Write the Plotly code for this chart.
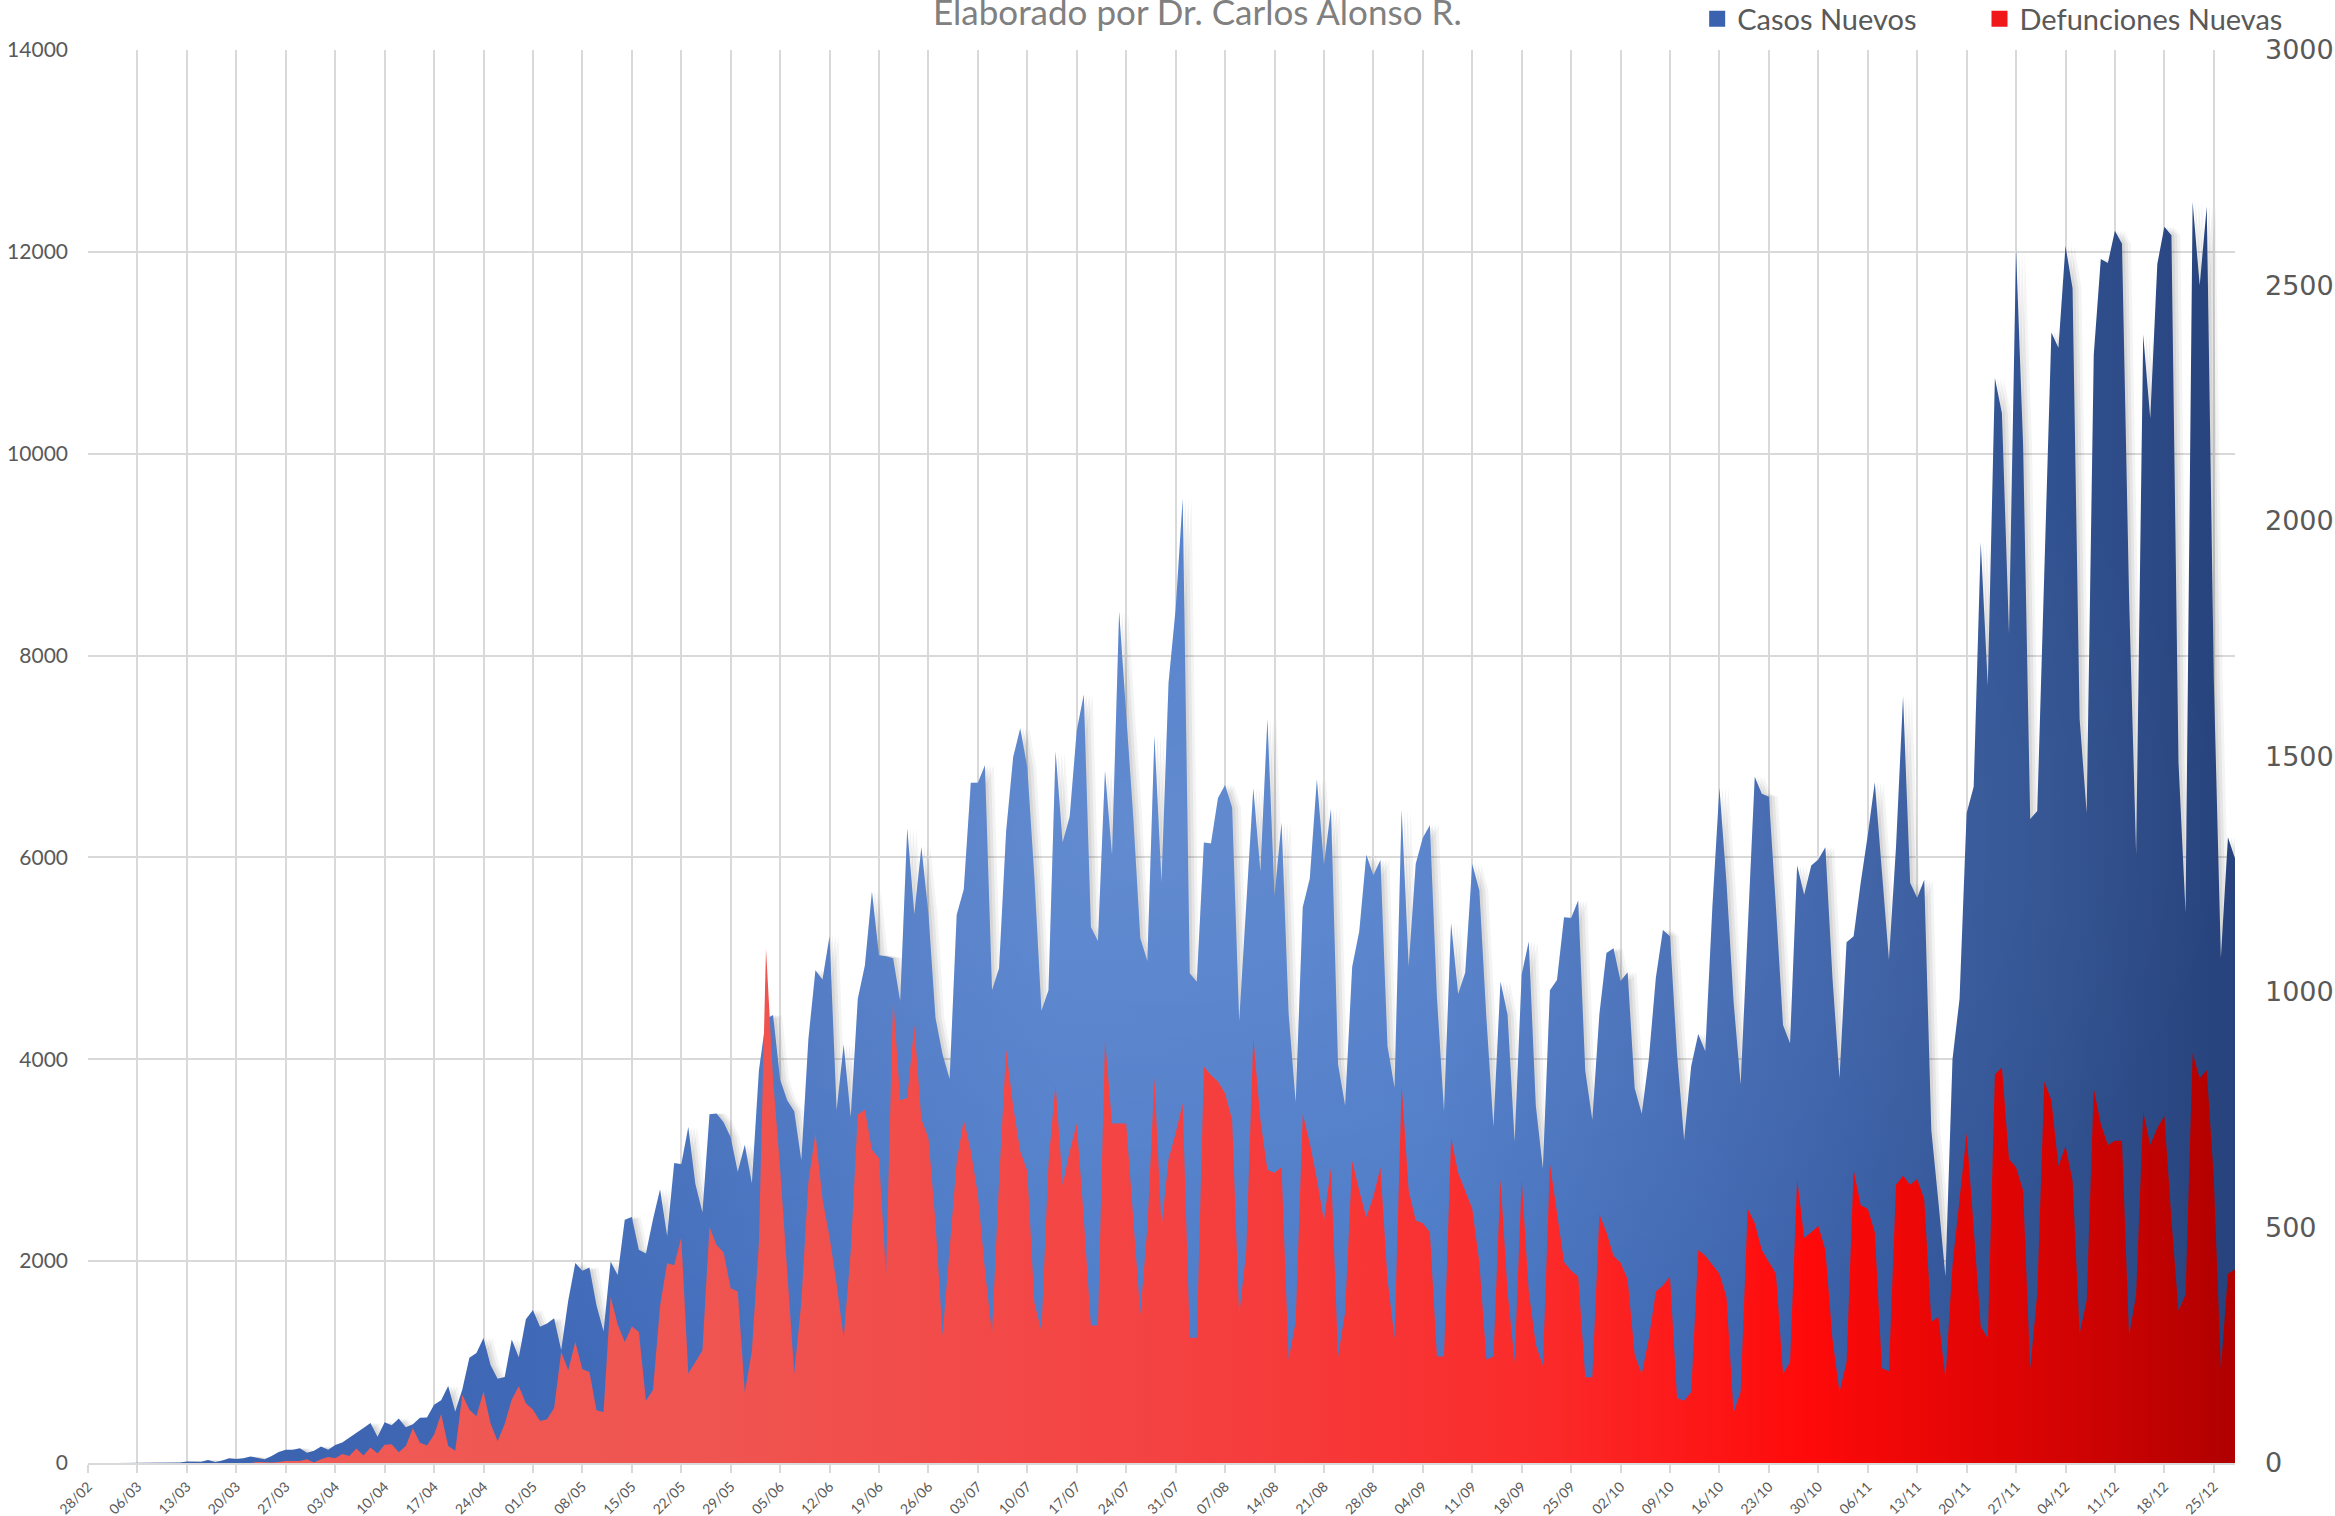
import pandas as pd
import plotly.graph_objects as go

# Casos nuevos diarios (eje izquierdo), 28/02 -> 28/12
casos_nuevos = [
    1, 3, 1, 0, 0, 0, 0, 1, 1, 0,
    0, 0, 1, 4, 14, 15, 12, 29, 11, 25,
    46, 39, 48, 65, 51, 38, 70, 110, 132, 131,
    145, 101, 121, 163, 132, 178, 202, 253, 296, 346,
    396, 260, 403, 375, 442, 353, 385, 448, 450, 578,
    622, 764, 511, 729, 1043, 1089, 1239, 970, 835, 852,
    1223, 1047, 1425, 1515, 1349, 1383, 1434, 1120, 1609, 1982,
    1906, 1938, 1562, 1305, 1997, 1862, 2409, 2437, 2112, 2075,
    2414, 2713, 2248, 2973, 2960, 3329, 2764, 2485, 3455, 3463,
    3377, 3227, 2885, 3152, 2771, 3891, 4400, 4440, 3800, 3593,
    3484, 2999, 4199, 4883, 4790, 5222, 3494, 4147, 3427, 4599,
    4930, 5662, 5030, 5020, 5000, 4577, 6288, 5437, 6104, 5441,
    4410, 4050, 3805, 5432, 5681, 6741, 6740, 6914, 4683, 4902,
    6258, 6995, 7280, 6891, 5800, 4482, 4685, 7051, 6149, 6406,
    7257, 7615, 5311, 5172, 6859, 6019, 8438, 7400, 6400, 5200,
    4973, 7208, 5752, 7730, 8458, 9556, 4853, 4767, 6148, 6139,
    6590, 6717, 6495, 4376, 5558, 6686, 5858, 7371, 5618, 6345,
    4448, 3571, 5506, 5792, 6775, 5928, 6482, 3948, 3541, 4916,
    5267, 6026, 5824, 5974, 4129, 3719, 6476, 4921, 5937, 6196,
    6319, 4614, 3486, 5351, 4647, 4857, 5935, 5674, 4408, 3335,
    4771, 4444, 3182, 4841, 5167, 3542, 2917, 4683, 4786, 5408,
    5401, 5573, 3886, 3400, 4446, 5053, 5099, 4775, 4863, 3712,
    3460, 4000, 4810, 5280, 5220, 4050, 3200, 3930, 4250, 4080,
    5510, 6690, 5750, 4575, 3750, 5280, 6800, 6630, 6600, 5510,
    4340, 4160, 5920, 5630, 5920, 5980, 6100, 4810, 3810, 5160,
    5220, 5750, 6220, 6745, 5865, 4985, 6100, 7595, 5750, 5600,
    5780, 3300, 2590, 1850, 4000, 4600, 6440, 6700, 9120, 7700,
    10750, 10400, 8215, 12020, 10080, 6380, 6460, 8800, 11200, 11050,
    12060, 11640, 7370, 6440, 10980, 11930, 11890, 12210, 12080, 8585,
    6030, 11180, 10350, 11880, 12250, 12165, 6940, 5455, 12495, 11670,
    12450, 7760, 5005, 6200, 5990,
]

# Defunciones nuevas diarias (eje derecho)
defunciones_nuevas = [
    0, 0, 0, 0, 0, 0, 0, 0, 0, 0,
    0, 0, 0, 0, 0, 0, 0, 0, 0, 1,
    1, 0, 0, 0, 2, 1, 1, 2, 4, 4,
    4, 8, 1, 8, 13, 10, 19, 15, 31, 16,
    33, 20, 39, 40, 23, 36, 74, 43, 37, 60,
    104, 36, 26, 145, 113, 99, 152, 84, 46, 83,
    135, 163, 127, 113, 89, 93, 117, 236, 197, 257,
    199, 193, 112, 108, 353, 294, 257, 290, 278, 132,
    155, 334, 424, 420, 479, 190, 215, 239, 501, 463,
    447, 371, 364, 151, 237, 470, 1092, 816, 625, 400,
    190, 340, 596, 700, 560, 480, 380, 265, 450, 740,
    750, 665, 647, 400, 990, 770, 775, 930, 730, 690,
    510, 270, 455, 640, 728, 663, 570, 410, 275, 600,
    878, 757, 662, 620, 340, 280, 638, 805, 590, 662,
    721, 519, 292, 292, 900, 721, 721, 721, 519, 316,
    500, 818, 500, 645, 700, 764, 266, 266, 842, 823,
    810, 785, 729, 314, 450, 905, 729, 622, 616, 628,
    220, 300, 741, 679, 603, 515, 628, 226, 320, 641,
    578, 522, 566, 628, 390, 264, 804, 578, 515, 509,
    490, 226, 226, 691, 616, 578, 540, 427, 220, 226,
    603, 364, 214, 603, 364, 251, 207, 635, 528, 427,
    408, 396, 182, 182, 528, 490, 440, 425, 390, 230,
    189, 264, 364, 377, 396, 138, 132, 151, 452, 440,
    421, 402, 352, 107, 151, 540, 509, 452, 427, 402,
    189, 214, 603, 478, 490, 503, 452, 264, 151, 214,
    622, 547, 540, 490, 201, 195, 591, 610, 591, 603,
    560, 300, 310, 180, 420, 560, 700, 500, 290, 265,
    825, 840, 645, 628, 578, 200, 360, 810, 770, 630,
    673, 600, 275, 345, 795, 720, 675, 684, 684, 270,
    358, 746, 675, 711, 737, 517, 323, 358, 870, 817,
    834, 605, 199, 402, 411,
]

fechas = pd.date_range("2020-02-28", periods=len(casos_nuevos), freq="D")

titulo = "Elaborado por Dr. Carlos Alonso R."
nombres = ["Casos Nuevos", "Defunciones Nuevas"]

GRID = "#d9d9d9"
TXT = "#595959"

fig = go.Figure()

# sombra difusa del area azul (como la sombra de Excel)
for horas, alfa in [(30, 0.05), (20, 0.07), (10, 0.08)]:
    fig.add_trace(
        go.Scatter(
            x=fechas + pd.Timedelta(hours=horas),
            y=casos_nuevos,
            mode="lines",
            line=dict(width=0),
            fill="tozeroy",
            fillcolor="rgba(40,40,40,%.2f)" % alfa,
            showlegend=False,
            hoverinfo="skip",
        )
    )

# casos (eje izquierdo), degradado azul hacia la derecha
fig.add_trace(
    go.Scatter(
        x=fechas,
        y=casos_nuevos,
        mode="lines",
        line=dict(width=0, color="#4472c4"),
        fill="tozeroy",
        fillgradient=dict(
            type="horizontal",
            colorscale=[
                [0.0, "#3a60ab"],
                [0.2, "#3f68b6"],
                [0.45, "#4b7ac9"],
                [0.62, "#4978c7"],
                [0.8, "#3b61aa"],
                [0.92, "#30518f"],
                [1.0, "#27427c"],
            ],
        ),
        showlegend=False,
        hoverinfo="skip",
    )
)

# brillo central del azul (degradado radial de Excel)
fig.add_trace(
    go.Scatter(
        x=fechas,
        y=casos_nuevos,
        mode="lines",
        line=dict(width=0),
        fill="tozeroy",
        fillgradient=dict(
            type="radial",
            colorscale=[
                [0.0, "rgba(255,255,255,0.13)"],
                [0.5, "rgba(255,255,255,0.07)"],
                [1.0, "rgba(255,255,255,0)"],
            ],
        ),
        showlegend=False,
        hoverinfo="skip",
    )
)

# defunciones (eje derecho), degradado rojo
fig.add_trace(
    go.Scatter(
        x=fechas,
        y=defunciones_nuevas,
        yaxis="y2",
        mode="lines",
        line=dict(width=0, color="#ff0000"),
        fill="tozeroy",
        fillgradient=dict(
            type="horizontal",
            colorscale=[
                [0.0, "#ef5d57"],
                [0.3, "#f05450"],
                [0.5, "#f44242"],
                [0.68, "#fb2a2a"],
                [0.8, "#ff0a0a"],
                [0.9, "#dc0404"],
                [1.0, "#b00000"],
            ],
        ),
        showlegend=False,
        hoverinfo="skip",
    )
)

# entradas de leyenda con cuadrito, una leyenda por serie
for nombre, color, leyenda in zip(nombres, ["#3a62ae", "#f01818"], ["legend", "legend2"]):
    fig.add_trace(
        go.Scatter(
            x=[None],
            y=[None],
            mode="markers",
            name=nombre,
            legend=leyenda,
            marker=dict(symbol="square", size=16, color=color),
        )
    )

fig.add_annotation(
    text=titulo,
    xref="paper",
    yref="paper",
    x=0.517,
    y=1.011,
    xanchor="center",
    yanchor="bottom",
    showarrow=False,
    font=dict(family="Lato", size=35, color="#808080"),
)

estilo_leyenda = dict(
    orientation="h",
    y=1.022,
    xanchor="left",
    yanchor="middle",
    font=dict(family="Lato", size=29, color=TXT),
    bgcolor="rgba(0,0,0,0)",
)

fig.update_layout(
    width=2335,
    height=1516,
    margin=dict(l=88, r=100, t=50, b=53, pad=0, autoexpand=False),
    paper_bgcolor="white",
    plot_bgcolor="white",
    showlegend=True,
    legend=dict(x=0.7495, **estilo_leyenda),
    legend2=dict(x=0.881, **estilo_leyenda),
    xaxis=dict(
        type="date",
        range=["2020-02-28", "2020-12-28"],
        tick0="2020-02-28",
        dtick=7 * 86400000,
        tickformat="%d/%m",
        tickangle=-45,
        showgrid=True,
        gridcolor=GRID,
        gridwidth=2,
        ticks="outside",
        ticklen=8,
        tickcolor=GRID,
        tickwidth=2,
        showline=True,
        linecolor=GRID,
        linewidth=2,
        tickfont=dict(family="Lato", size=14, color=TXT),
        automargin=False,
    ),
    yaxis=dict(
        range=[0, 14000],
        dtick=2000,
        tickformat="d",
        showgrid=True,
        gridcolor=GRID,
        gridwidth=2,
        zeroline=False,
        showline=False,
        ticklabelstandoff=19,
        tickfont=dict(family="Lato", size=21, color=TXT),
        automargin=False,
    ),
    yaxis2=dict(
        overlaying="y",
        side="right",
        range=[0, 3000],
        dtick=500,
        tickformat="d",
        showgrid=False,
        zeroline=False,
        showline=False,
        ticklabelstandoff=29,
        tickfont=dict(family="DejaVu Sans", size=27, color=TXT),
        automargin=False,
    ),
)

# sin margen del body para que la figura ocupe la ventana exacta
fig.write_html(
    "out.html",
    config={"displayModeBar": False},
    post_script="document.body.style.margin = '0';",
)
